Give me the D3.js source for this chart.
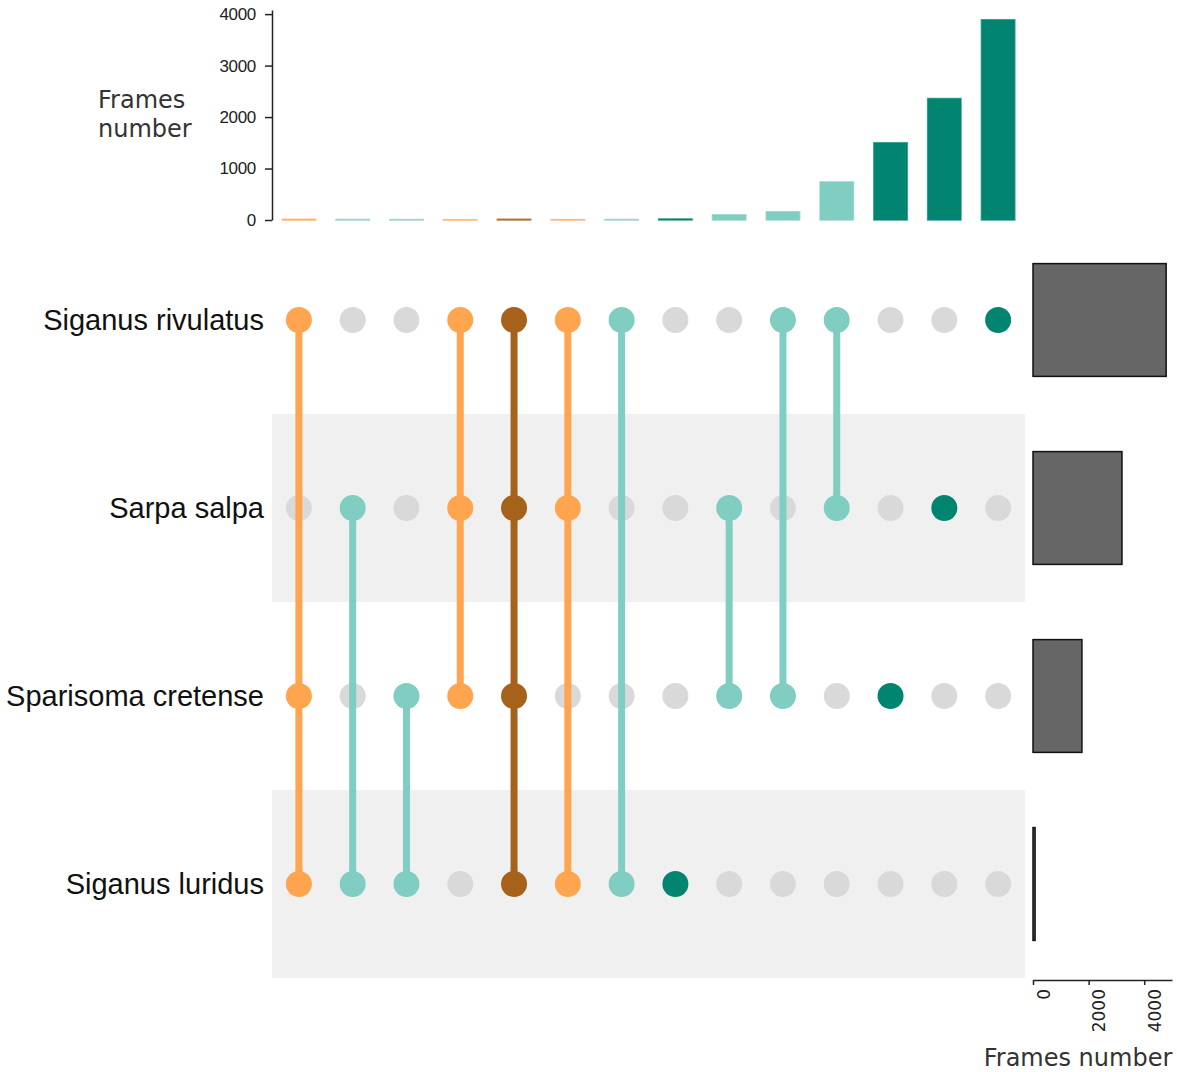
<!DOCTYPE html>
<html>
<head>
<meta charset="utf-8">
<script src="https://cdn.jsdelivr.net/npm/d3@7"></script>
<style>
  html, body { margin: 0; padding: 0; background: #ffffff; }
  svg { display: block; }
</style>
</head>
<body>
<svg id="chart" width="1177" height="1072"></svg>
<script>
// Species (matrix rows, top to bottom)
const species = ["Siganus rivulatus", "Sarpa salpa", "Sparisoma cretense", "Siganus luridus"];

// Intersections (matrix columns, left to right): member species of each
const intersections = [
  ["Siganus rivulatus", "Sparisoma cretense", "Siganus luridus"],
  ["Sarpa salpa", "Siganus luridus"],
  ["Sparisoma cretense", "Siganus luridus"],
  ["Siganus rivulatus", "Sarpa salpa", "Sparisoma cretense"],
  ["Siganus rivulatus", "Sarpa salpa", "Sparisoma cretense", "Siganus luridus"],
  ["Siganus rivulatus", "Sarpa salpa", "Siganus luridus"],
  ["Siganus rivulatus", "Siganus luridus"],
  ["Siganus luridus"],
  ["Sarpa salpa", "Sparisoma cretense"],
  ["Siganus rivulatus", "Sparisoma cretense"],
  ["Siganus rivulatus", "Sarpa salpa"],
  ["Sparisoma cretense"],
  ["Sarpa salpa"],
  ["Siganus rivulatus"]
];

// Frames number of each intersection
const intersectionFrames = [12, 9, 7, 5, 14, 6, 8, 20, 100, 160, 740, 1500, 2360, 3890];

// Frames number of each species (set sizes)
const speciesFrames = [4790, 3200, 1760, 75];

// Axis ticks
const topTicks = [0, 1000, 2000, 3000, 4000];
const sideTicks = [0, 2000, 4000];

// Colour by number of species in the intersection
const degreeColors = { 1: "#018571", 2: "#80CDC1", 3: "#FFA54F", 4: "#A6611A" };
const inactiveColor = "#D9D9D9";
const bandColor = "#F0F0F0";

const svg = d3.select("#chart");

// ---- scales ----
const x = d3.scaleBand()
  .domain(d3.range(intersections.length))
  .range([272, 1025])
  .padding(0);

const y = d3.scaleBand()
  .domain(species)
  .range([226, 978])
  .padding(0);

const yTop = d3.scaleLinear().domain([0, 4080]).range([220, 10]);
const xSide = d3.scaleLinear().domain([0, 5000]).range([1033, 1172]);

const barW = x.bandwidth() * 0.62;
const cx = i => x(i) + x.bandwidth() / 2;
const cy = s => y(s) + y.bandwidth() / 2;

// ---- shaded rows ----
svg.append("g")
  .selectAll("rect")
  .data(species.filter((d, i) => i % 2 === 1))
  .join("rect")
  .attr("x", 272)
  .attr("width", 1025 - 272)
  .attr("y", d => y(d))
  .attr("height", y.bandwidth())
  .attr("fill", bandColor);

// ---- intersection size bars ----
svg.append("g")
  .selectAll("rect")
  .data(intersectionFrames)
  .join("rect")
  .attr("x", (d, i) => cx(i) - barW / 2)
  .attr("width", barW)
  .attr("y", d => yTop(d))
  .attr("height", d => yTop(0) - yTop(d))
  .attr("fill", (d, i) => degreeColors[intersections[i].length])
  .attr("stroke", (d, i) => degreeColors[intersections[i].length])
  .attr("stroke-opacity", 0.7)
  .attr("stroke-width", 1.6);

const topAxis = svg.append("g")
  .attr("transform", "translate(272,0)")
  .call(d3.axisLeft(yTop).tickValues(topTicks).tickFormat(d3.format("d"))
    .tickSize(7).tickSizeOuter(0).tickPadding(9));
topAxis.select(".domain").attr("stroke", "#222").attr("stroke-width", 1.5);
topAxis.selectAll(".tick line").attr("stroke", "#222").attr("stroke-width", 1.5);
topAxis.selectAll(".tick text")
  .style("font-family", "Liberation Sans, Arial, sans-serif")
  .style("font-size", "17px")
  .style("letter-spacing", "-0.3px")
  .attr("fill", "#222");

svg.append("text")
  .attr("font-family", "DejaVu Sans, sans-serif")
  .attr("font-size", 24)
  .attr("fill", "#333")
  .selectAll("tspan")
  .data(["Frames", "number"])
  .join("tspan")
  .attr("x", 98)
  .attr("y", (d, i) => 108 + i * 29)
  .text(d => d);

// ---- matrix: dots ----
const cells = [];
intersections.forEach((members, i) => {
  species.forEach(s => {
    cells.push({ i, s, on: members.includes(s), deg: members.length });
  });
});

svg.append("g")
  .selectAll("circle")
  .data(cells.filter(c => !c.on))
  .join("circle")
  .attr("cx", d => cx(d.i))
  .attr("cy", d => cy(d.s))
  .attr("r", 13)
  .attr("fill", inactiveColor);

// ---- matrix: connecting lines ----
svg.append("g")
  .selectAll("line")
  .data(intersections.map((m, i) => ({ i, m })).filter(d => d.m.length > 1))
  .join("line")
  .attr("x1", d => cx(d.i))
  .attr("x2", d => cx(d.i))
  .attr("y1", d => d3.min(d.m, s => cy(s)))
  .attr("y2", d => d3.max(d.m, s => cy(s)))
  .attr("stroke", d => degreeColors[d.m.length])
  .attr("stroke-width", 7);

svg.append("g")
  .selectAll("circle")
  .data(cells.filter(c => c.on))
  .join("circle")
  .attr("cx", d => cx(d.i))
  .attr("cy", d => cy(d.s))
  .attr("r", 13)
  .attr("fill", d => degreeColors[d.deg]);

// ---- species labels ----
svg.append("g")
  .selectAll("text")
  .data(species)
  .join("text")
  .attr("x", 264)
  .attr("y", d => cy(d) + 10)
  .attr("text-anchor", "end")
  .attr("font-family", "Liberation Sans, Arial, sans-serif")
  .attr("font-size", 29)
  .attr("fill", "#111")
  .text(d => d);

// ---- species size bars ----
const sideBarH = y.bandwidth() * 0.6;
svg.append("g")
  .selectAll("rect")
  .data(speciesFrames)
  .join("rect")
  .attr("x", xSide(0))
  .attr("width", d => xSide(d) - xSide(0))
  .attr("y", (d, i) => cy(species[i]) - sideBarH / 2)
  .attr("height", sideBarH)
  .attr("fill", "#666666")
  .attr("stroke", "#111")
  .attr("stroke-width", 1.5);

const sideAxis = svg.append("g")
  .attr("transform", "translate(0,980)")
  .call(d3.axisBottom(xSide).tickValues(sideTicks).tickFormat(d3.format("d"))
    .tickSize(5).tickSizeOuter(0).tickPadding(5));
sideAxis.select(".domain").attr("stroke", "#222").attr("stroke-width", 1.5);
sideAxis.selectAll(".tick line").attr("stroke", "#222").attr("stroke-width", 1.5);
sideAxis.selectAll(".tick text")
  .style("font-family", "DejaVu Sans, sans-serif")
  .style("font-size", "17px")
  .attr("fill", "#222")
  .attr("text-anchor", "end")
  .attr("dy", null)
  .attr("transform", "translate(6,9) rotate(-90)");

svg.append("text")
  .attr("x", 1078)
  .attr("y", 1066)
  .attr("text-anchor", "middle")
  .attr("font-family", "DejaVu Sans, sans-serif")
  .attr("font-size", 24)
  .attr("fill", "#333")
  .text("Frames number");
</script>
</body>
</html>
